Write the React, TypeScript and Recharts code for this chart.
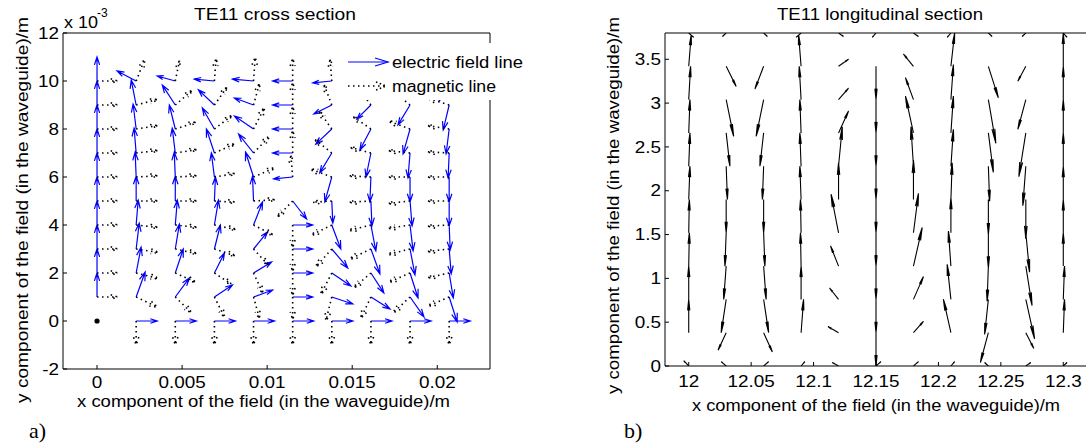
import React from 'react';
import { ComposedChart, Line, XAxis, YAxis, Scatter } from 'recharts';

const FONT = '"Liberation Sans", Arial, Helvetica, sans-serif';

// ---------- Panel a) TE11 cross section ----------
const A_X = [0, 0.0023, 0.0046, 0.0069, 0.0092, 0.0115, 0.0138, 0.0161, 0.0184, 0.0207];
const A_Y = [0, 1, 2, 3, 4, 5, 6, 7, 8, 9, 10];
const A_XTICKS = [0, 0.005, 0.01, 0.015, 0.02];
const A_YTICKS = [-2, 0, 2, 4, 6, 8, 10, 12];

// electric field components (mm), one row per column of A_X, entries along A_Y
const E_U = [
  [0, 0, 0, 0, 0, 0, 0, 0, 0, 0, 0],
  [1.24, 0.53, 0.29, 0.18, 0.12, 0, -0.06, -0.12, -0.18, -0.29, -1.12],
  [1.24, 0.82, 0.47, 0.24, 0.12, 0, -0.06, -0.18, -0.35, -0.76, -1.06],
  [1.24, 1.06, 0.59, 0.35, 0.24, 0.06, -0.18, -0.47, -0.71, -0.94, -1.18],
  [1.24, 1.12, 1.06, 0.82, 0.53, -0.06, -0.47, -0.88, -1.12, -1.12, -1.24],
  [1.24, 1.18, 1.18, 1.18, 1.18, 0.82, -1.12, -1.18, -1.18, -1.18, -1.18],
  [1.24, 1.24, 1.12, 0.94, 0.53, 0.06, -0.41, -0.71, -0.94, -1.06, -1.12],
  [1.24, 1.12, 0.76, 0.53, 0.29, 0.06, -0.06, -0.29, -0.65, -0.82, -1.0],
  [1.24, 0.82, 0.47, 0.29, 0.18, 0.12, 0, -0.12, -0.41, -0.71, -0.88],
  [1.24, 0.47, 0.24, 0.12, 0.06, 0, 0, -0.06, -0.18, -0.35, -0.59],
];
const E_V = [
  [0, 1, 1, 1, 1, 1, 1, 1, 1, 1, 1],
  [0, 1.04, 1.08, 1.08, 1.04, 1.04, 1.04, 1.04, 1.04, 1.04, 0.42],
  [0, 0.79, 1.0, 1.04, 1.04, 1.04, 1.04, 1.04, 1.0, 0.83, 0.21],
  [0, 0.5, 0.83, 1.0, 1.04, 1.0, 1.0, 1.0, 0.875, 0.63, 0.08],
  [0, 0.29, 0.46, 0.71, 0.96, 1.04, 1.04, 0.79, 0.54, 0.29, 0.08],
  [0, 0, 0, 0, 0, -0.75, -0.08, 0, 0, 0, 0],
  [0, -0.29, -0.54, -0.79, -1.0, -0.92, -1.04, -0.83, -0.63, -0.375, -0.08],
  [0, -0.5, -0.83, -1.04, -1.08, -1.04, -1.04, -1.0, -0.875, -0.58, -0.33],
  [0, -0.83, -1.04, -1.08, -1.08, -1.04, -1.04, -1.04, -1.04, -0.83, -0.58],
  [0, -1.04, -1.04, -1.04, -1.04, -1.04, -1.04, -1.04, -1.04, -1.04, -0.83],
];
// magnetic field components (mm)
const H_U = [
  [0, 1.2, 1.2, 1.2, 1.2, 1.2, 1.2, 1.2, 1.2, 1.2, 1.2],
  [0, 1.25, 1.3, 1.3, 1.25, 1.25, 1.25, 1.25, 1.25, 1.25, 0.5],
  [0, 0.95, 1.2, 1.25, 1.25, 1.25, 1.25, 1.25, 1.2, 1.0, 0.25],
  [0, 0.6, 1.0, 1.2, 1.25, 1.2, 1.2, 1.2, 1.05, 0.75, 0.1],
  [0, 0.35, 0.55, 0.85, 1.15, 1.25, 1.25, 0.95, 0.65, 0.35, 0.1],
  [0, 0, 0, 0, 0, -0.9, -0.1, 0, 0, 0, 0],
  [0, -0.35, -0.65, -0.95, -1.2, -1.1, -1.25, -1.0, -0.75, -0.45, -0.1],
  [0, -0.6, -1.0, -1.25, -1.3, -1.25, -1.25, -1.2, -1.05, -0.7, -0.4],
  [0, -1.0, -1.25, -1.3, -1.3, -1.25, -1.25, -1.25, -1.25, -1.0, -0.7],
  [0, -1.25, -1.25, -1.25, -1.25, -1.25, -1.25, -1.25, -1.25, -1.25, -1.0],
];
const H_V = [
  [0, 0, 0, 0, 0, 0, 0, 0, 0, 0, 0],
  [-1.0, -0.42, -0.23, -0.14, -0.1, 0, 0.05, 0.1, 0.14, 0.23, 0.9],
  [-1.0, -0.66, -0.38, -0.19, -0.1, 0, 0.05, 0.14, 0.28, 0.61, 0.85],
  [-1.0, -0.85, -0.47, -0.28, -0.19, -0.05, 0.14, 0.38, 0.57, 0.75, 0.94],
  [-1.0, -0.9, -0.85, -0.66, -0.42, 0.05, 0.38, 0.7, 0.9, 0.9, 1.0],
  [-1.0, -0.94, -0.94, -0.94, -0.94, -0.66, 0.9, 0.94, 0.94, 0.94, 0.94],
  [-1.0, -1.0, -0.9, -0.75, -0.42, -0.05, 0.33, 0.57, 0.75, 0.85, 0.9],
  [-1.0, -0.9, -0.61, -0.42, -0.23, -0.05, 0.05, 0.23, 0.52, 0.66, 0.8],
  [-1.0, -0.66, -0.38, -0.23, -0.14, -0.1, 0, 0.1, 0.33, 0.57, 0.7],
  [-1.0, -0.38, -0.19, -0.1, -0.05, 0, 0, 0.05, 0.14, 0.28, 0.47],
];

// ---------- Panel b) TE11 longitudinal section ----------
const B_X = [12.0, 12.03, 12.06, 12.09, 12.12, 12.15, 12.18, 12.21, 12.24, 12.27, 12.3];
const B_Y = [0, 0.38, 0.76, 1.14, 1.52, 1.9, 2.28, 2.66, 3.04, 3.42, 3.8];
const B_XTICKS = [12, 12.05, 12.1, 12.15, 12.2, 12.25, 12.3];
const B_YTICKS = [0, 0.5, 1, 1.5, 2, 2.5, 3, 3.5];
const Q_U = [
  [-0.004, 0, 0, 0.0005, 0.0005, 0.001, 0.001, 0.001, 0.0015, 0.002, 0.004],
  [-0.004, -0.0065, -0.004, -0.002, -0.001, 0, 0.001, 0.003, 0.006, 0.008, -0.003],
  [0.004, 0.007, 0.004, 0.002, 0.001, 0, -0.001, -0.003, -0.006, -0.007, 0.003],
  [0.003, 0.002, 0, -0.0005, -0.0005, -0.001, -0.001, -0.001, -0.0015, -0.002, -0.004],
  [-0.005, -0.0085, -0.0072, -0.0064, -0.006, 0, 0.003, 0.008, 0.008, 0.008, 0.004],
  [0.004, 0, 0, 0, 0, 0, 0, 0, 0, 0, -0.003],
  [0.004, 0.008, 0.008, 0.007, 0.004, 0, -0.002, -0.0064, -0.0064, -0.008, 0.004],
  [0.003, -0.006, -0.003, -0.002, 0, 0.001, 0.002, 0.002, 0.002, 0.003, -0.003],
  [-0.003, -0.0064, -0.003, -0.001, 0, 0, 0.001, 0.004, 0.006, 0.008, 0.003],
  [0.004, 0.0064, 0.007, 0.005, 0.003, 0, -0.0024, -0.0056, -0.0064, -0.0064, -0.003],
  [0.003, 0.001, 0.001, 0, 0, 0, 0, 0, 0, 0, 0.003],
];
const Q_V = [
  [0.06, 0.38, 0.38, 0.38, 0.38, 0.38, 0.38, 0.38, 0.38, 0.36, -0.05],
  [0.05, -0.2, -0.38, -0.38, -0.38, -0.38, -0.38, -0.38, -0.42, -0.23, -0.04],
  [0.05, -0.22, -0.38, -0.38, -0.38, -0.38, -0.38, -0.38, -0.42, -0.26, -0.04],
  [0.05, 0.38, 0.38, 0.38, 0.38, 0.38, 0.38, 0.38, 0.38, 0.36, -0.05],
  [0.04, 0.07, 0.13, 0.23, 0.44, 0.42, 0.45, 0.25, 0.13, 0.08, -0.04],
  [0.05, -0.38, -0.38, -0.38, -0.38, -0.38, -0.38, -0.38, -0.38, -0.38, -0.05],
  [0.05, 0.13, 0.26, 0.44, 0.45, 0.45, 0.45, 0.42, 0.25, 0.14, -0.04],
  [0.05, 0.38, 0.4, 0.4, 0.4, 0.42, 0.42, 0.42, 0.4, 0.38, -0.05],
  [0.04, -0.34, -0.4, -0.4, -0.4, -0.4, -0.4, -0.45, -0.5, -0.36, -0.04],
  [0.04, -0.18, -0.45, -0.45, -0.45, -0.45, -0.45, -0.5, -0.34, -0.17, -0.04],
  [0.04, 0.38, 0.38, 0.38, 0.38, 0.38, 0.38, 0.38, 0.38, 0.38, -0.05],
];

// ---------- geometry helpers (layout constants) ----------
const A_DOM_X: [number, number] = [-0.002, 0.0231];
const A_DOM_Y: [number, number] = [-2, 12];
const B_DOM_X: [number, number] = [11.981, 12.319];
const B_DOM_Y: [number, number] = [0, 3.8];
const A_KX = 427 / (A_DOM_X[1] - A_DOM_X[0]);
const A_KY = 336 / (A_DOM_Y[1] - A_DOM_Y[0]);
const B_KX = 422 / (B_DOM_X[1] - B_DOM_X[0]);
const B_KY = 333 / (B_DOM_Y[1] - B_DOM_Y[0]);

type P = { x: number; y: number | null };

function quiver(xs: number[], ys: number[], U: number[][], V: number[][], uUnit: number, kx: number, ky: number, b: number) {
  const segs: P[] = [];
  const zeros: { x: number; y: number }[] = [];
  const a = 0.33;
  xs.forEach((x0, i) => {
    ys.forEach((y0, j) => {
      const u = U[i][j] * uUnit;
      const v = V[i][j];
      if (u === 0 && v === 0) {
        zeros.push({ x: x0, y: y0 });
        return;
      }
      const x1 = x0 + u;
      const y1 = y0 + v;
      const pu = u * kx;
      const pv = v * ky;
      const h1x = x1 - (a * (pu + b * pv)) / kx;
      const h1y = y1 - (a * (pv - b * pu)) / ky;
      const h2x = x1 - (a * (pu - b * pv)) / kx;
      const h2y = y1 - (a * (pv + b * pu)) / ky;
      segs.push(
        { x: x0, y: y0 },
        { x: x1, y: y1 },
        { x: x1, y: null },
        { x: h1x, y: h1y },
        { x: x1, y: y1 },
        { x: h2x, y: h2y },
        { x: h2x, y: null },
      );
    });
  });
  return { segs, zeros };
}

const eQ = quiver(A_X, A_Y, E_U, E_V, 0.001, A_KX, A_KY, 0.33);
const hQ = quiver(A_X, A_Y, H_U, H_V, 0.001, A_KX, A_KY, 0.33);
const bQ = quiver(B_X, B_Y, Q_U, Q_V, 1, B_KX, B_KY, 0.1);
const zeroPts = eQ.zeros.filter((z) => hQ.zeros.some((h) => h.x === z.x && h.y === z.y));

const SX = 1.18; // horizontal stretch of the reference lettering

const BottomTick = (p: any) => (
  <text transform={`translate(${p.x},${p.y + 11.5}) scale(${SX},1)`} textAnchor="middle" fontSize={16} fontFamily={FONT} fill="#000">
    {String(p.payload.value)}
  </text>
);
const LeftTick = (p: any) => (
  <text transform={`translate(${p.x},${p.y + 5.7}) scale(${SX},1)`} textAnchor="end" fontSize={16} fontFamily={FONT} fill="#000">
    {String(p.payload.value)}
  </text>
);

const Dot = (p: any) => <circle cx={p.cx} cy={p.cy} r={2.6} fill="#000" />;

export default function App() {
  return (
    <div style={{ position: 'absolute', left: 0, top: 0, width: 1086, height: 446, overflow: 'hidden', background: '#fff' }}>
      <div style={{ position: 'absolute', left: 0, top: 0 }}>
        <ComposedChart width={540} height={446} margin={{ top: 32, right: 49, bottom: 47, left: 0 }}>
          <XAxis xAxisId="b" dataKey="x" type="number" domain={A_DOM_X} allowDataOverflow ticks={A_XTICKS} interval={0}
            tickSize={-4} tickMargin={11} height={30} stroke="#000" tick={BottomTick} />
          <XAxis xAxisId="t" orientation="top" dataKey="x" type="number" domain={A_DOM_X} allowDataOverflow ticks={A_XTICKS}
            interval={0} tickSize={-4} height={1} stroke="#000" tick={false} />
          <YAxis yAxisId="l" dataKey="y" type="number" domain={A_DOM_Y} allowDataOverflow ticks={A_YTICKS} interval={0}
            tickSize={-4} tickMargin={8} width={63} stroke="#000" tick={LeftTick} />
          <YAxis yAxisId="r" orientation="right" dataKey="y" type="number" domain={A_DOM_Y} allowDataOverflow ticks={A_YTICKS}
            interval={0} tickSize={-4} width={1} stroke="#000" tick={false} />
          <Line xAxisId="b" yAxisId="l" data={eQ.segs} dataKey="y" stroke="#0000ff" strokeWidth={1.2} dot={false}
            activeDot={false} isAnimationActive={false} connectNulls={false} />
          <Line xAxisId="b" yAxisId="l" data={hQ.segs} dataKey="y" stroke="#000" strokeWidth={1.6} strokeDasharray="1.5 3.5"
            dot={false} activeDot={false} isAnimationActive={false} connectNulls={false} />
          <Scatter xAxisId="b" yAxisId="l" data={zeroPts} dataKey="y" shape={Dot} isAnimationActive={false} />
        </ComposedChart>
      </div>
      <div style={{ position: 'absolute', left: 540, top: 0 }}>
        <ComposedChart width={560} height={446} margin={{ top: 32, right: 12, bottom: 50, left: 0 }}>
          <XAxis xAxisId="b" dataKey="x" type="number" domain={B_DOM_X} allowDataOverflow ticks={B_XTICKS} interval={0}
            tickSize={-4} tickMargin={13} height={30} stroke="#000" tick={BottomTick} />
          <XAxis xAxisId="t" orientation="top" dataKey="x" type="number" domain={B_DOM_X} allowDataOverflow ticks={B_XTICKS}
            interval={0} tickSize={-4} height={1} stroke="#000" tick={false} />
          <YAxis yAxisId="l" dataKey="y" type="number" domain={B_DOM_Y} allowDataOverflow ticks={B_YTICKS} interval={0}
            tickSize={-4} tickMargin={8} width={125} stroke="#000" tick={LeftTick} />
          <YAxis yAxisId="r" orientation="right" dataKey="y" type="number" domain={B_DOM_Y} allowDataOverflow ticks={B_YTICKS}
            interval={0} tickSize={-4} width={1} stroke="#000" tick={false} />
          <Line xAxisId="b" yAxisId="l" data={bQ.segs} dataKey="y" stroke="#000" strokeWidth={1.1} dot={false}
            activeDot={false} isAnimationActive={false} connectNulls={false} />
        </ComposedChart>
      </div>
      <svg width={1086} height={446} style={{ position: 'absolute', left: 0, top: 0, pointerEvents: 'none' }}>
        <g fontFamily={FONT} fill="#000" fontSize={16}>
          <text x={194} y={20} textLength={162} lengthAdjust="spacingAndGlyphs">TE11 cross section</text>
          <text x={777} y={20} textLength={206} lengthAdjust="spacingAndGlyphs">TE11 longitudinal section</text>
          <text x={64} y={28} textLength={34} lengthAdjust="spacingAndGlyphs">x 10</text>
          <text x={97} y={17} fontSize={12}>-3</text>
          <text x={77} y={407} textLength={373} lengthAdjust="spacingAndGlyphs">x component of the field (in the waveguide)/m</text>
          <text x={692} y={411} textLength={368} lengthAdjust="spacingAndGlyphs">x component of the field (in the waveguide)/m</text>
          <text x={28} y={403} textLength={386} lengthAdjust="spacingAndGlyphs" transform="rotate(-90 28 403)">y component of the field (in the waveguide)/m</text>
          <text x={619} y={394} textLength={377} lengthAdjust="spacingAndGlyphs" transform="rotate(-90 619 394)">y component of the field (in the waveguide)/m</text>
        </g>
        <g fontFamily='"Liberation Serif", "Times New Roman", serif' fill="#000">
          <text x={29} y={438} fontSize={22}>a)</text>
          <text x={624} y={438} fontSize={22}>b)</text>
        </g>
        <g>
          <rect x={345} y={43} width={185} height={57} fill="#fff" />
          <line x1={348} y1={62} x2={388} y2={62} stroke="#0000ff" strokeWidth={1.2} />
          <polyline points="375,58 388,62 375,66" fill="none" stroke="#0000ff" strokeWidth={1.2} />
          <line x1={348} y1={86} x2={386} y2={86} stroke="#000" strokeWidth={1.6} strokeDasharray="1.5 3.5" />
          <polyline points="376,82 386,86 376,90" fill="none" stroke="#000" strokeWidth={1.6} strokeDasharray="1.5 2.5" />
          <text x={392} y={68} fontSize={16} fontFamily={FONT} fill="#000" textLength={131} lengthAdjust="spacingAndGlyphs">electric field line</text>
          <text x={392} y={92} fontSize={16} fontFamily={FONT} fill="#000" textLength={104} lengthAdjust="spacingAndGlyphs">magnetic line</text>
        </g>
      </svg>
    </div>
  );
}
